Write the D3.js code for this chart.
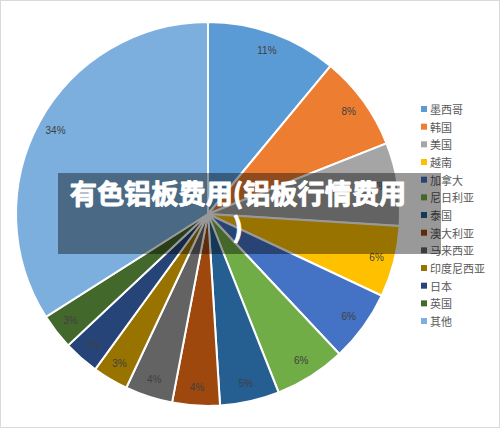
<!DOCTYPE html>
<html><head><meta charset="utf-8">
<script src="https://cdn.jsdelivr.net/npm/d3@7/dist/d3.min.js"></script>
<style>body{margin:0;background:#fff;}svg{display:block;font-family:"Noto Sans CJK SC","Noto Sans",sans-serif;}</style>
</head><body><svg id="c" width="500" height="428"></svg>
<script>
const categories = ["墨西哥","韩国","美国","越南","加拿大","尼日利亚","泰国","澳大利亚","马来西亚","印度尼西亚","日本","英国","其他"];
const values = [11,8,7,6,6,6,5,4,4,3,3,3,34];
const colors = ["#5B9BD5","#ED7D31","#A5A5A5","#FFC000","#4472C4","#70AD47","#255E91","#9E480E","#636363","#997300","#264478","#43682B","#7CAFDD"];
const titleLines = ["有色铝板费用(铝板行情费用", ")"];

const svg = d3.select("#c");
svg.append("rect").attr("x",0.5).attr("y",0.5).attr("width",499).attr("height",427)
  .attr("fill","#fff").attr("stroke","#d9d9d9");

const cx = 208, cy = 214, R = 192;
const data = categories.map((c,i)=>({name:c,value:values[i],color:colors[i]}));
const pie = d3.pie().value(d=>d.value).sort(null);
const arcs = pie(data);
const arc = d3.arc().innerRadius(0).outerRadius(R);
const labelArc = d3.arc().innerRadius(174).outerRadius(174);
const total = d3.sum(values);

const g = svg.append("g").attr("transform",`translate(${cx},${cy})`);
g.selectAll("path").data(arcs).join("path")
  .attr("d",arc).attr("fill",d=>d.data.color)
  .attr("stroke","#fff").attr("stroke-width",2);
g.selectAll("text").data(arcs).join("text")
  .attr("transform",d=>`translate(${labelArc.centroid(d)})`)
  .attr("text-anchor","middle").attr("dominant-baseline","central")
  .attr("font-size",10).attr("fill","#404040")
  .attr("font-family","Liberation Sans, Arial, sans-serif")
  .text(d=>Math.round(d.data.value/total*100)+"%");

const leg = svg.append("g").attr("transform","translate(421,109)");
const rowH = 17.67;
const li = leg.selectAll("g").data(data).join("g")
  .attr("transform",(d,i)=>`translate(0,${i*rowH})`);
li.append("rect").attr("x",0).attr("y",-3).attr("width",6).attr("height",6).attr("fill",d=>d.color);
li.append("text").attr("x",9).attr("y",0).attr("dominant-baseline","central")
  .attr("font-size",11).attr("fill","#595959").text(d=>d.name);

svg.append("rect").attr("x",58).attr("y",173).attr("width",383).attr("height",81)
  .attr("fill","rgba(0,0,0,0.4)");
const t = svg.append("text").attr("font-size",27.2).attr("font-weight","bold").attr("fill","#fff")
  .attr("stroke","#fff").attr("stroke-width",0.9).attr("stroke-linejoin","round")
  .attr("text-anchor","middle")
  .attr("font-family","Noto Sans CJK SC, sans-serif");
titleLines.forEach((s,i)=>{
  t.append("tspan").attr("x",238).attr("y",204+i*34).text(s);
});
</script></body></html>
